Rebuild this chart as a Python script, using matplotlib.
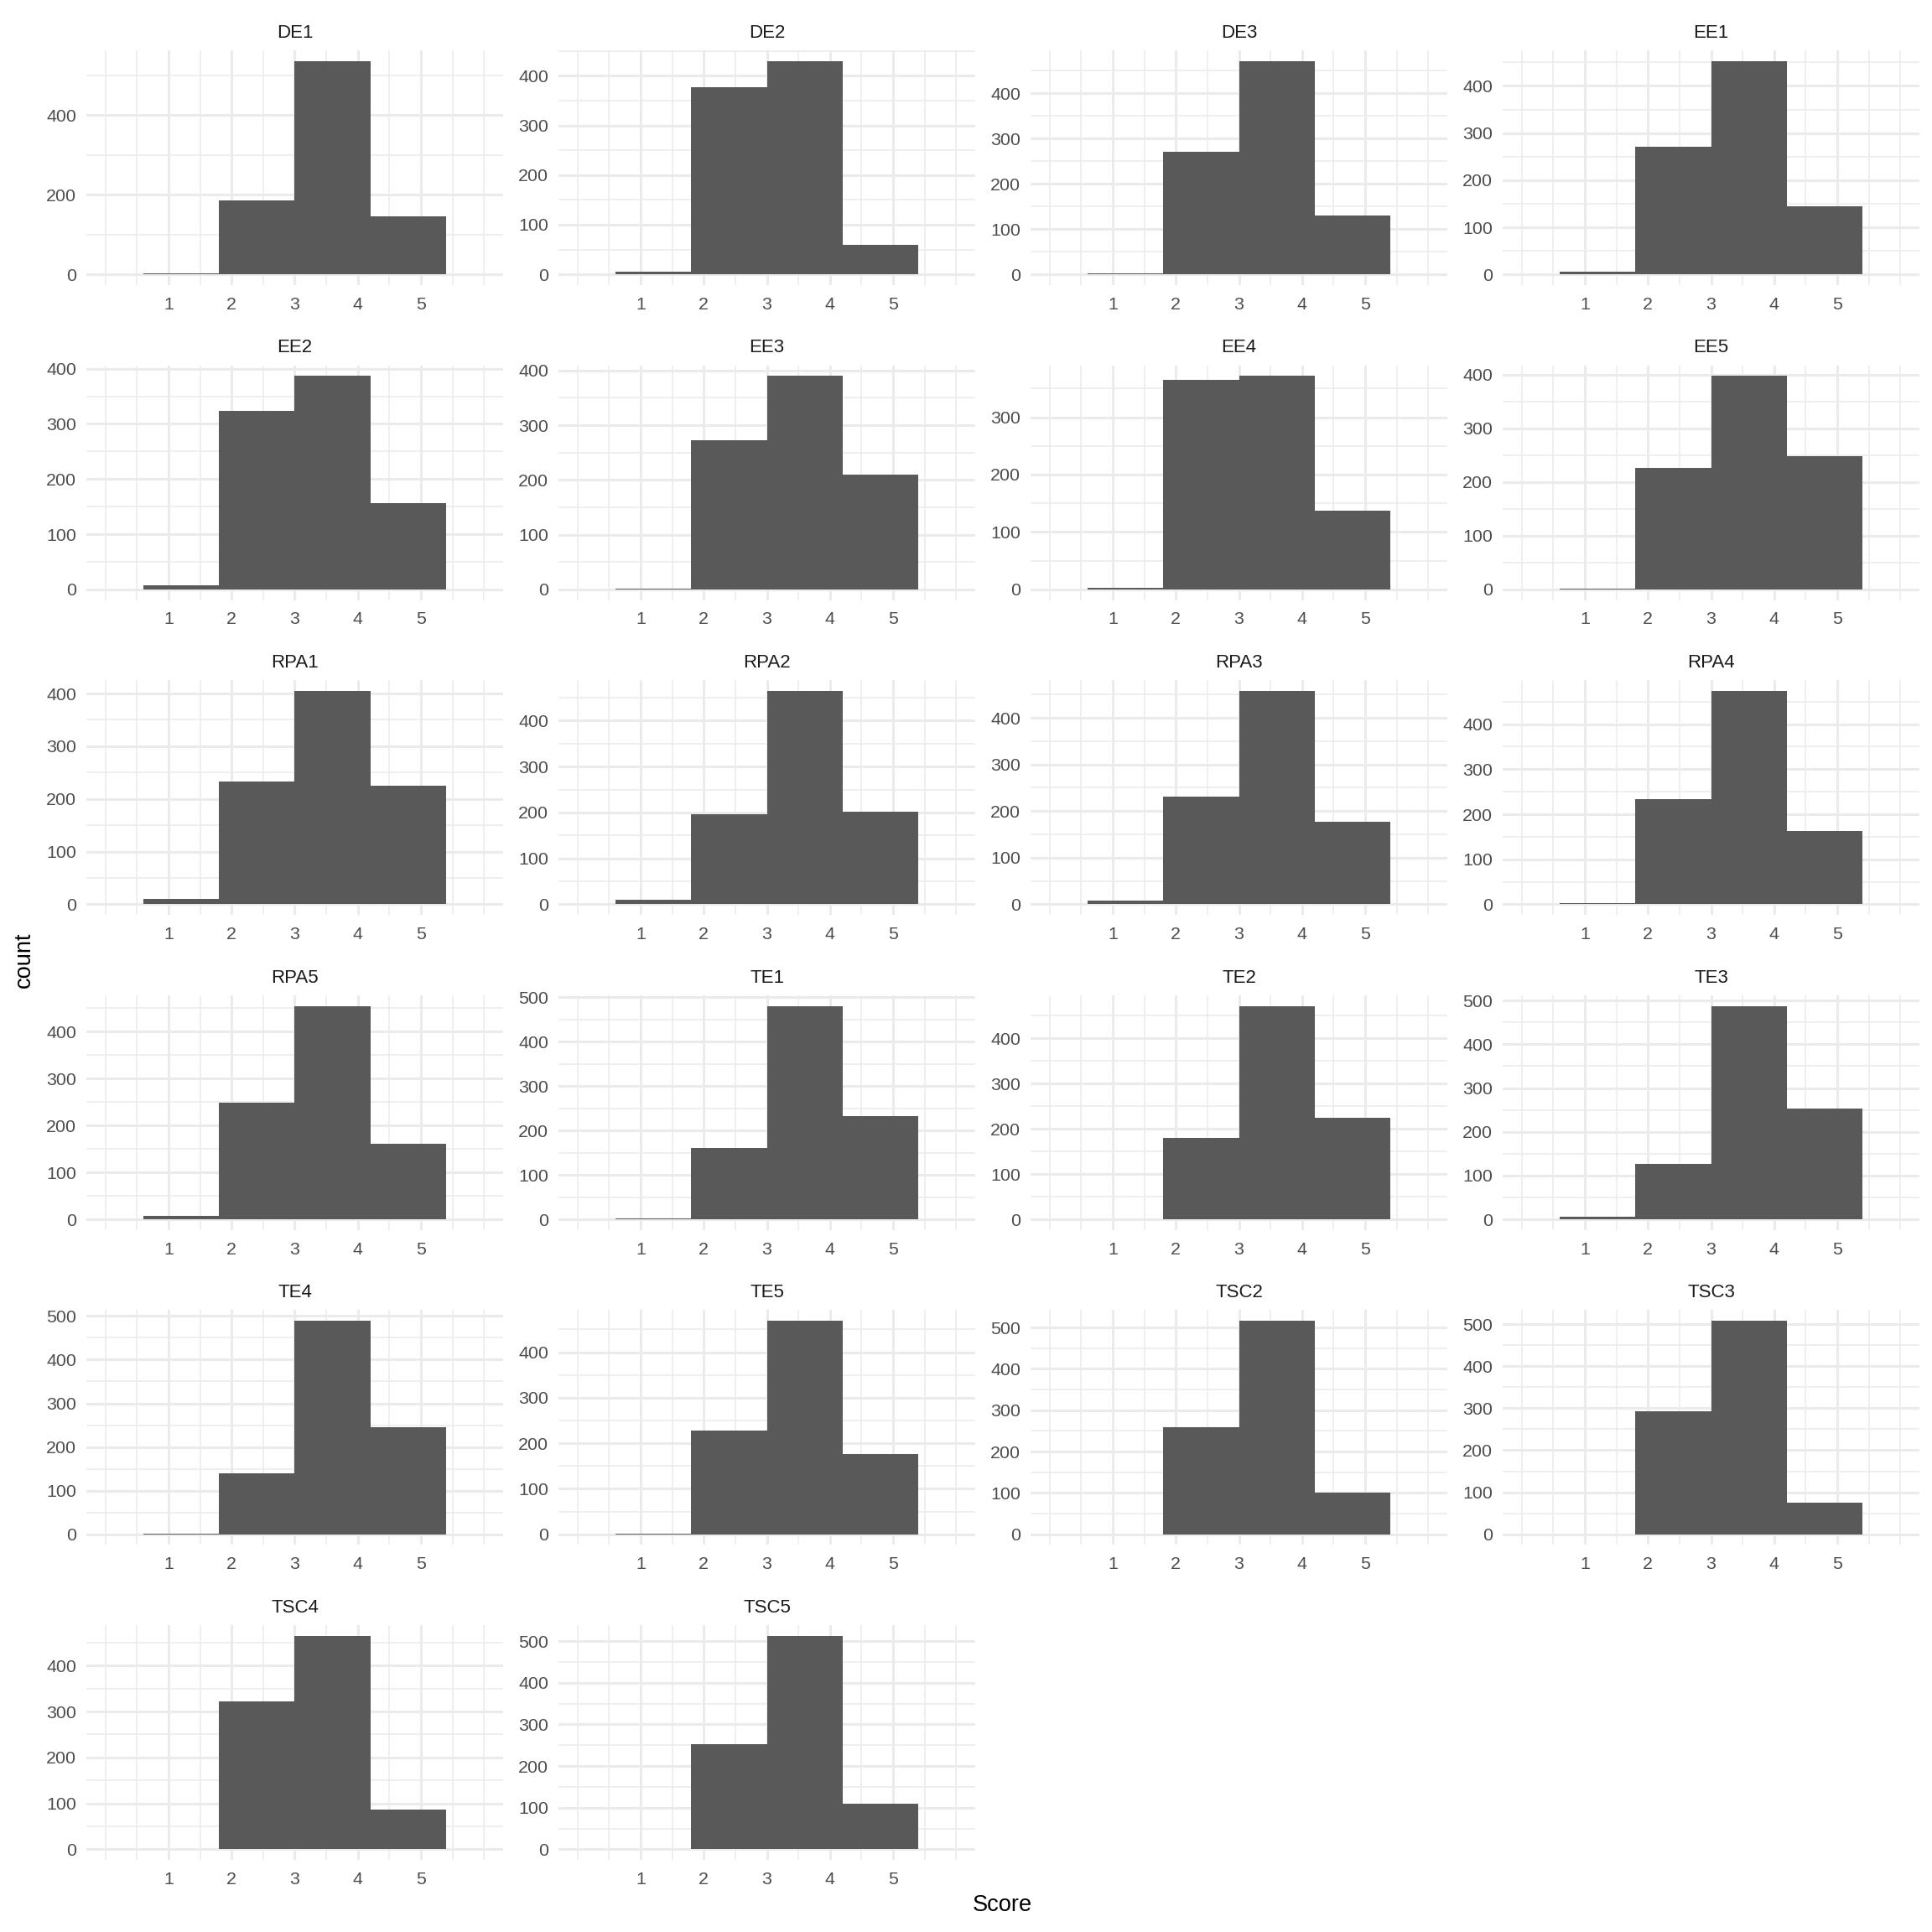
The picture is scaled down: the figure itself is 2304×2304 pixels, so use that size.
import math
import numpy as np
import matplotlib; matplotlib.use("Agg")
import matplotlib.pyplot as plt

plt.rcParams["font.family"] = ["Liberation Sans", "DejaVu Sans"]

ITEMS = ["DE1", "DE2", "DE3", "EE1", "EE2", "EE3", "EE4", "EE5",
         "RPA1", "RPA2", "RPA3", "RPA4", "RPA5", "TE1", "TE2", "TE3",
         "TE4", "TE5", "TSC2", "TSC3", "TSC4", "TSC5"]
BIN_EDGES = [0.6, 1.8, 3.0, 4.2, 5.4]
# counts per bin, one value per item (same order as ITEMS)
COUNT_BIN1 = [3, 6, 2, 5, 8, 2, 2, 2, 10, 10, 8, 3, 8, 2, 0, 6, 2, 2, 0, 0, 0, 0]
COUNT_BIN2 = [186, 377, 271, 271, 323, 273, 365, 226, 233, 196, 231, 233, 249, 160, 180, 126, 139, 227, 258, 292, 323, 253]
COUNT_BIN3 = [536, 430, 471, 453, 387, 390, 372, 398, 405, 465, 458, 474, 455, 481, 472, 488, 489, 469, 516, 508, 465, 513]
COUNT_BIN4 = [146, 60, 130, 145, 156, 209, 137, 248, 225, 202, 177, 163, 161, 232, 224, 254, 245, 176, 100, 75, 87, 110]
X_BREAKS = [1, 2, 3, 4, 5]
X_LIMITS = (0, 6)

BAR = "#595959"; GRID = "#EBEBEB"; AXTXT = "#4D4D4D"; STRIP = "#1A1A1A"


def extended(dmin, dmax, m=5, Q=(1, 5, 2, 2.5, 4, 3), w=(0.25, 0.2, 0.5, 0.05)):
    """Talbot's extended breaks, as used by ggplot2 (labeling::extended)."""
    n = len(Q); best = None; best_score = -2; j = 1; rng = dmax - dmin
    while True:
        stop = False
        for i, q in enumerate(Q):
            sm = 2 - i / (n - 1) - j
            if w[0]*sm + w[1] + w[2] + w[3] < best_score:
                stop = True; break
            k = 2
            while True:
                dm = 2 - (k - 1) / (m - 1) if k >= m else 1
                if w[0]*sm + w[1] + w[2]*dm + w[3] < best_score:
                    break
                delta = rng / (k + 1) / j / q
                z = math.ceil(math.log10(delta))
                while True:
                    step = j * q * 10**z
                    span = step * (k - 1)
                    cm = 1 - ((span - rng) / 2)**2 / (0.1*rng)**2 if span > rng else 1
                    if w[0]*sm + w[1]*cm + w[2]*dm + w[3] < best_score:
                        break
                    lo = math.floor(dmax / step) * j - (k - 1) * j
                    hi = math.ceil(dmin / step) * j
                    for start in range(lo, hi + 1):
                        lmin = start * (step / j); lmax = lmin + step * (k - 1)
                        md = lmin % step
                        v = 1 if (md < 1e-9 or step - md < 1e-9) and lmin <= 0 <= lmax else 0
                        s = 1 - i / (n - 1) - j + v
                        c = 1 - 0.5 * ((dmax - lmax)**2 + (dmin - lmin)**2) / (0.1*rng)**2
                        r = (k - 1) / (lmax - lmin)
                        rt = (m - 1) / (max(lmax, dmax) - min(dmin, lmin))
                        g = 2 - max(r / rt, rt / r)
                        score = w[0]*s + w[1]*c + w[2]*g + w[3]
                        if score > best_score:
                            best_score = score; best = (lmin, lmax, step)
                    z += 1
                k += 1
        if stop:
            break
        j += 1
    lmin, lmax, step = best
    return np.arange(lmin, lmax + step / 2, step)


def minor_breaks(major, lo, hi):
    b = list(major); d = b[1] - b[0]
    if lo < b[0]: b = [b[0] - d] + b
    if hi > b[-1]: b = b + [b[-1] + d]
    mb = sorted(set(b + [(a + c) / 2 for a, c in zip(b[:-1], b[1:])]))
    return [x for x in mb if lo <= x <= hi]


fig, axes = plt.subplots(6, 4, figsize=(11.52, 11.52), dpi=200)
fig.subplots_adjust(left=0.0447, right=0.9935, top=0.974, bottom=0.0373,
                    wspace=0.1328, hspace=0.3414)

xr = X_LIMITS[1] - X_LIMITS[0]
xlo, xhi = X_LIMITS[0] - 0.05 * xr, X_LIMITS[1] + 0.05 * xr

for idx, ax in enumerate(axes.flat):
    if idx >= len(ITEMS):
        ax.axis("off"); continue
    counts = [COUNT_BIN1[idx], COUNT_BIN2[idx], COUNT_BIN3[idx], COUNT_BIN4[idx]]
    ymax = max(counts)
    ylo, yhi = -0.05 * ymax, 1.05 * ymax
    # one filled step outline -> no seams between neighbouring bins
    ax.stairs(counts, BIN_EDGES, fill=True, baseline=0, color=BAR, lw=0, zorder=3)

    ax.set_xlim(xlo, xhi); ax.set_ylim(ylo, yhi)
    ax.set_xticks(X_BREAKS)
    ax.set_xticks(minor_breaks(X_BREAKS, xlo, xhi), minor=True)
    # ggplot computes breaks on the expanded range
    ymaj = [v for v in extended(ylo, yhi) if ylo <= v <= yhi]
    ax.set_yticks(ymaj); ax.set_yticklabels([f"{int(round(v))}" for v in ymaj])
    ax.set_yticks(minor_breaks(ymaj, ylo, yhi), minor=True)

    ax.grid(which="minor", color=GRID, lw=0.55, zorder=0)
    ax.grid(which="major", color=GRID, lw=1.1, zorder=0)
    ax.set_axisbelow(True)
    for sp in ax.spines.values(): sp.set_visible(False)
    ax.tick_params(which="both", length=0, labelsize=7.7, labelcolor=AXTXT)
    ax.tick_params(axis="x", pad=5)
    ax.tick_params(axis="y", pad=4.3)
    ax.set_title(ITEMS[idx], fontsize=8, color=STRIP, pad=5.5)

fig.text(0.5187, 0.0139, "Score", ha="center", va="center", fontsize=9.8, color="black")
fig.text(0.0127, 0.503, "count", ha="center", va="center", rotation=90, fontsize=9.8, color="black")

plt.savefig("out.png", dpi=200, facecolor="white")
plt.close()
